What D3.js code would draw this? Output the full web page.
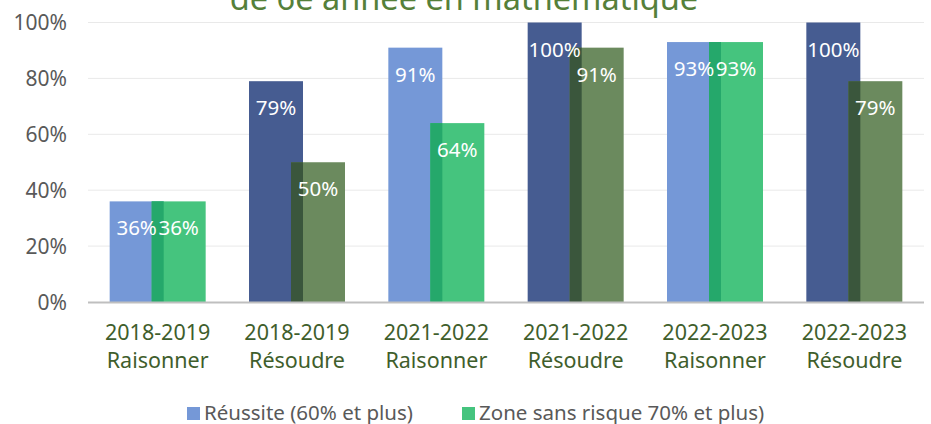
<!DOCTYPE html>
<html>
<head>
<meta charset="utf-8">
<script src="https://cdn.jsdelivr.net/npm/d3@7"></script>
<style>
  body { margin: 0; background: #fff; }
  svg text { font-family: "Noto Sans", sans-serif; }
</style>
</head>
<body>
<script>
// données du graphique
const years = ["2018-2019", "2018-2019", "2021-2022", "2021-2022", "2022-2023", "2022-2023"];
const skills = ["Raisonner", "Résoudre", "Raisonner", "Résoudre", "Raisonner", "Résoudre"];
const reussite = [36, 79, 91, 100, 93, 100];
const zone = [36, 50, 64, 91, 93, 79];
const yTicks = [0, 20, 40, 60, 80, 100];
const seriesNames = ["Réussite (60% et plus)", "Zone sans risque 70% et plus)"];

const width = 931, height = 424;

// couleurs : clair pour Raisonner, foncé pour Résoudre
const colors = {
  "Raisonner": { a: "#7598d7", b: "#45c47e", both: "#25a86b" },
  "Résoudre": { a: "#465c91", b: "#6b8a5e", both: "#3a563c" }
};

const rows = years.map((y, i) => ({ i: i, year: y, skill: skills[i], a: reussite[i], b: zone[i] }));

const svg = d3.select("body").append("svg")
  .attr("width", width).attr("height", height);

const x = d3.scaleBand().domain(d3.range(rows.length)).range([88, 924]);
const y = d3.scaleLinear().domain([0, 100]).range([302, 22.5]);

const barW = 54, shift = 48; // largeur des barres, décalage depuis le centre

// titre (coupé en haut, comme dans l'image)
svg.append("text")
  .attr("x", 464).attr("y", 10)
  .attr("text-anchor", "middle")
  .attr("font-size", 32.5)
  .attr("fill", "#55803a")
  .text("de 6e année en mathématique");

// grille
svg.append("g").selectAll("line")
  .data(yTicks.filter(t => t > 0))
  .enter().append("line")
  .attr("x1", 88).attr("x2", 924)
  .attr("y1", d => y(d)).attr("y2", d => y(d))
  .attr("stroke", "#e9e9e9").attr("stroke-width", 1);

// axe y
const yAxis = svg.append("g")
  .attr("transform", "translate(67,0)")
  .call(d3.axisLeft(y).tickValues(yTicks).tickFormat(d => d + "%").tickSize(0).tickPadding(0));
yAxis.select(".domain").remove();
yAxis.selectAll("text")
  .attr("font-size", 21)
  .attr("fill", "#595959")
  .attr("dy", "0.35em");

const cx = d => x(d.i) + x.bandwidth() / 2;

const bars = svg.append("g");
// Réussite
bars.selectAll(".ra").data(rows).enter().append("rect")
  .attr("x", d => cx(d) - shift)
  .attr("y", d => y(d.a))
  .attr("width", barW)
  .attr("height", d => y(0) - y(d.a))
  .attr("fill", d => colors[d.skill].a);
// Zone sans risque
bars.selectAll(".rb").data(rows).enter().append("rect")
  .attr("x", d => cx(d) + shift - barW)
  .attr("y", d => y(d.b))
  .attr("width", barW)
  .attr("height", d => y(0) - y(d.b))
  .attr("fill", d => colors[d.skill].b);
// chevauchement
bars.selectAll(".rc").data(rows).enter().append("rect")
  .attr("x", d => cx(d) + shift - barW)
  .attr("y", d => y(Math.min(d.a, d.b)))
  .attr("width", 2 * barW - 2 * shift)
  .attr("height", d => y(0) - y(Math.min(d.a, d.b)))
  .attr("fill", d => colors[d.skill].both);

// étiquettes des barres
const labels = svg.append("g")
  .attr("font-size", 20.5).attr("fill", "#fff").attr("text-anchor", "middle");
labels.selectAll(".la").data(rows).enter().append("text")
  .attr("x", d => cx(d) - shift + barW / 2)
  .attr("y", d => y(d.a) + 34)
  .text(d => d.a + "%");
labels.selectAll(".lb").data(rows).enter().append("text")
  .attr("x", d => cx(d) + shift - barW / 2)
  .attr("y", d => y(d.b) + 34)
  .text(d => d.b + "%");

// ligne de base
svg.append("line")
  .attr("x1", 88).attr("x2", 924)
  .attr("y1", y(0) + 0.5).attr("y2", y(0) + 0.5)
  .attr("stroke", "#bfbfbf").attr("stroke-width", 2);

// étiquettes de l'axe x
const xl = svg.append("g").attr("text-anchor", "middle")
  .attr("font-size", 21.5).attr("fill", "#3f5e2c");
xl.selectAll(".yr").data(rows).enter().append("text")
  .attr("x", cx).attr("y", 340).text(d => d.year);
xl.selectAll(".sk").data(rows).enter().append("text")
  .attr("x", cx).attr("y", 368).text(d => d.skill);

// légende
const legend = [
  { name: seriesNames[0], color: colors["Raisonner"].a, x: 187 },
  { name: seriesNames[1], color: colors["Raisonner"].b, x: 462 }
];
const lg = svg.append("g");
lg.selectAll("rect").data(legend).enter().append("rect")
  .attr("x", d => d.x).attr("y", 407)
  .attr("width", 13).attr("height", 13)
  .attr("fill", d => d.color);
lg.selectAll("text").data(legend).enter().append("text")
  .attr("x", d => d.x + 17).attr("y", 420)
  .attr("font-size", 20.5).attr("fill", "#595959")
  .text(d => d.name);
</script>
</body>
</html>
